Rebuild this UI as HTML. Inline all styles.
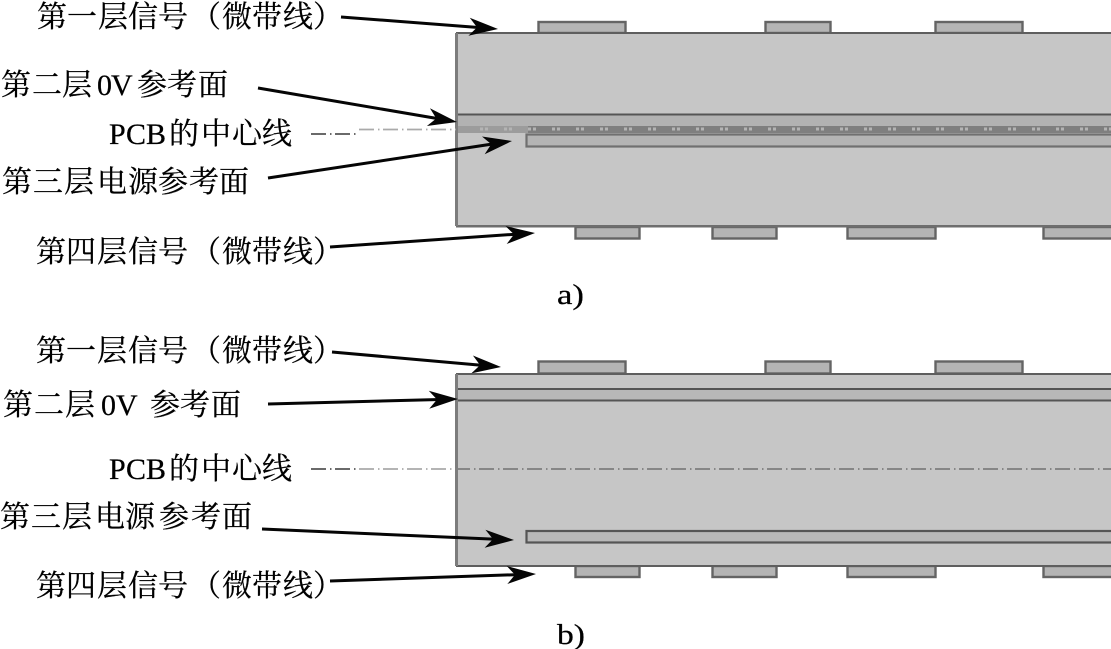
<!DOCTYPE html>
<html lang="zh">
<head>
<meta charset="utf-8">
<style>
html,body{margin:0;padding:0;background:#fff;width:1111px;height:649px;overflow:hidden}
svg{display:block}
text{font-family:"Liberation Serif","Noto Serif CJK SC",serif;fill:#000;stroke:#000;stroke-width:.25;font-size:30px}
</style>
</head>
<body>
<svg width="1111" height="649" viewBox="0 0 1111 649" xmlns="http://www.w3.org/2000/svg">
<defs>
<g id="ah"><path d="M0 0 L-29 -9 L-21 0 L-29 9 Z" fill="#050505"/></g>
</defs>

<!-- Diagram a -->
<g fill="#b4b4b4" stroke="#646464" stroke-width="2.4">
<rect x="538.5" y="22" width="87" height="11"/>
<rect x="765.5" y="22" width="65" height="11"/>
<rect x="935.5" y="22" width="87" height="11"/>
<rect x="575.5" y="227" width="64" height="11.5"/>
<rect x="712.5" y="227" width="64" height="11.5"/>
<rect x="847.5" y="227" width="88" height="11.5"/>
<rect x="1043.5" y="227" width="70" height="11.5"/>
</g>
<rect x="456" y="33" width="657" height="193" fill="#c6c6c6"/>
<rect x="456" y="32" width="657" height="2" fill="#5e5e5e"/>
<rect x="456" y="225" width="657" height="2.5" fill="#6e6e6e"/>
<rect x="455" y="33" width="3" height="193" fill="#7c7c7c"/>
<rect x="458" y="115" width="653" height="11" fill="#b2b2b2"/>
<rect x="458" y="113.5" width="653" height="2" fill="#555"/>
<rect x="458" y="126" width="653" height="7" fill="#7f7f7f"/>
<rect x="458" y="126" width="70" height="7" fill="#9c9c9c"/>
<line x1="480" y1="129" x2="1111" y2="129" stroke="#b4b4b4" stroke-width="3" stroke-dasharray="3 2 3 16"/>
<rect x="526.5" y="134.5" width="590" height="12" fill="#b4b4b4" stroke="#707070" stroke-width="2.2"/>
<g fill="none" stroke-width="1.8" stroke-dasharray="15 4 1.5 3.5">
<line x1="311" y1="134" x2="359" y2="134" stroke="#555"/>
<line x1="359" y1="129.5" x2="456" y2="129.5" stroke="#aaa"/>
</g>

<!-- Diagram b -->
<g fill="#b4b4b4" stroke="#646464" stroke-width="2.4">
<rect x="538.5" y="361.5" width="87" height="12"/>
<rect x="765.5" y="361.5" width="65" height="12"/>
<rect x="935.5" y="361.5" width="87" height="12"/>
<rect x="575.5" y="566" width="64" height="11"/>
<rect x="712.5" y="566" width="64" height="11"/>
<rect x="847.5" y="566" width="88" height="11"/>
<rect x="1043.5" y="566" width="70" height="11"/>
</g>
<rect x="456" y="374" width="657" height="192" fill="#c6c6c6"/>
<rect x="456" y="373" width="657" height="2" fill="#5e5e5e"/>
<rect x="456" y="565" width="657" height="2" fill="#5e5e5e"/>
<rect x="455" y="374" width="3" height="192" fill="#7c7c7c"/>
<rect x="458" y="389" width="653" height="11" fill="#b8b8b8"/>
<rect x="458" y="388" width="653" height="2" fill="#555"/>
<rect x="458" y="399.5" width="653" height="2" fill="#555"/>
<rect x="526.5" y="531" width="590" height="11.5" fill="#b8b8b8" stroke="#555" stroke-width="2.2"/>
<g fill="none" stroke-width="1.8" stroke-dasharray="15 4 1.5 3.5">
<line x1="311" y1="469" x2="359" y2="469" stroke="#555"/>
<line x1="359" y1="469" x2="455" y2="469" stroke="#aaa"/>
<line x1="455" y1="469" x2="1111" y2="469" stroke="#7e7e7e"/>
</g>

<!-- Arrows -->
<g stroke="#050505" stroke-width="3" fill="none">
<line x1="341" y1="17" x2="480" y2="27.6"/>
<line x1="258" y1="88" x2="440" y2="119"/>
<line x1="268" y1="178" x2="495" y2="143.6"/>
<line x1="330" y1="247" x2="516" y2="234.2"/>
<line x1="332" y1="352" x2="484" y2="365.5"/>
<line x1="268" y1="404" x2="440" y2="399.5"/>
<line x1="262" y1="529" x2="496" y2="539.3"/>
<line x1="330" y1="581" x2="518" y2="574.6"/>
</g>
<use href="#ah" transform="translate(498,29) rotate(4.4)"/>
<use href="#ah" transform="translate(457,122) rotate(9.7)"/>
<use href="#ah" transform="translate(512,141) rotate(-8.6)"/>
<use href="#ah" transform="translate(535,233) rotate(-3.9)"/>
<use href="#ah" transform="translate(501,367) rotate(5.1)"/>
<use href="#ah" transform="translate(458,399) rotate(-1.5)"/>
<use href="#ah" transform="translate(514,540) rotate(2.5)"/>
<use href="#ah" transform="translate(536,574) rotate(-2)"/>

<!-- Labels -->
<text x="37 67 98 128 158 191 222 252 283 313" y="27">第一层信号（微带线）</text>
<text x="1 32 62 97 111 137 167 198" y="95">第二层0V参考面</text>
<text x="109 126 146 169 201 232 262" y="144">PCB的中心线</text>
<text x="2 33 64 97 128 158 189 219" y="192">第三层电源参考面</text>
<text x="36 66 97 128 158 191 222 252 283 313" y="262">第四层信号（微带线）</text>
<text x="557" y="304" style="font-size:29px" textLength="27" lengthAdjust="spacingAndGlyphs">a)</text>

<text x="36 66 97 128 158 191 222 252 283 313" y="361">第一层信号（微带线）</text>
<text x="3 34 65 101 116 150 180 211" y="415">第二层0V参考面</text>
<text x="109 126 146 169 201 232 262" y="479">PCB的中心线</text>
<text x="0 31 62 95 125 159 191 222" y="527">第三层电源参考面</text>
<text x="36 66 97 128 158 191 222 252 283 313" y="596">第四层信号（微带线）</text>
<text x="557" y="644" style="font-size:29px" textLength="28" lengthAdjust="spacingAndGlyphs">b)</text>
</svg>
</body>
</html>
